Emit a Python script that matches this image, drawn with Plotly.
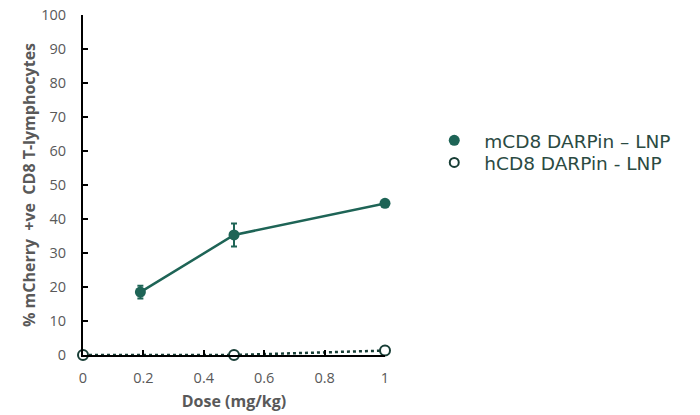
import plotly.graph_objects as go

# Dose levels (mg/kg) and % mCherry-positive CD8 T cells
m_dose = [0.19, 0.5, 1.0]
m_pct = [18.5, 35.3, 44.6]
m_err = [1.9, 3.4, 0.0]

h_dose = [0.0, 0.5, 1.0]
h_pct = [0.0, 0.0, 1.3]

x_ticks = [0, 0.2, 0.4, 0.6, 0.8, 1]
x_tick_text = ["0", "0.2", "0.4", "0.6", "0.8", "1"]
y_ticks = [0, 10, 20, 30, 40, 50, 60, 70, 80, 90, 100]

GREEN = "#1e6456"
DARK = "#173d35"
GREY = "#595959"
LEG_TXT = "#2b4a42"

fig = go.Figure()

fig.add_trace(go.Scatter(
    x=h_dose, y=h_pct, mode="lines+markers", showlegend=False,
    line=dict(color=DARK, width=2.5, dash="dot"),
    marker=dict(symbol="circle", size=10, color="white",
                line=dict(color=DARK, width=2)),
    cliponaxis=False,
))

fig.add_trace(go.Scatter(
    x=m_dose, y=m_pct, mode="lines+markers", showlegend=False,
    line=dict(color=GREEN, width=2.5),
    marker=dict(symbol="circle", size=11, color=GREEN),
    error_y=dict(type="data", array=m_err, visible=True,
                 color=GREEN, thickness=2, width=3),
    cliponaxis=False,
))

# legend entries (markers only), one legend box per row
fig.add_trace(go.Scatter(
    x=[None], y=[None], mode="markers", name="mCD8 DARPin \u2013 LNP",
    marker=dict(symbol="circle", size=11, color=GREEN), legend="legend",
))
fig.add_trace(go.Scatter(
    x=[None], y=[None], mode="markers", name="hCD8 DARPin - LNP",
    marker=dict(symbol="circle", size=9, color="white",
                line=dict(color=DARK, width=2)), legend="legend2",
))

leg_common = dict(
    xanchor="left", yanchor="middle",
    font=dict(family="DejaVu Sans", size=18.5, color=LEG_TXT),
    bgcolor="rgba(0,0,0,0)", itemsizing="trace", itemwidth=50,
)

fig.update_layout(
    width=700, height=415,
    margin=dict(l=83, r=315, t=15, b=60),
    paper_bgcolor="white", plot_bgcolor="white",
    font=dict(family="Open Sans", color=GREY),
    legend=dict(x=1.13, y=0.630, **leg_common),
    legend2=dict(x=1.13, y=0.565, **leg_common),
    xaxis=dict(
        range=[0, 1], tickvals=x_ticks, ticktext=x_tick_text,
        showgrid=False, zeroline=False, automargin=False,
        showline=True, linecolor="black", linewidth=2,
        ticks="inside", ticklen=5, tickwidth=2, tickcolor="black",
        ticklabelstandoff=9,
        tickfont=dict(size=14.5, color=GREY),
        title=dict(text="<b>Dose (mg/kg)</b>", font=dict(size=16, color=GREY), standoff=9),
    ),
    yaxis=dict(
        range=[0, 100], tickvals=y_ticks,
        showgrid=False, zeroline=False, automargin=False,
        showline=True, linecolor="black", linewidth=2,
        ticks="inside", ticklen=5, tickwidth=2, tickcolor="black",
        ticklabelstandoff=12,
        tickfont=dict(size=14.5, color=GREY),
        title=dict(text="<b>% mCherry\u00a0 +ve\u00a0 CD8 T-lymphocytes</b>",
                   font=dict(size=16, color=GREY), standoff=2),
    ),
)

fig.write_html("out.html")
